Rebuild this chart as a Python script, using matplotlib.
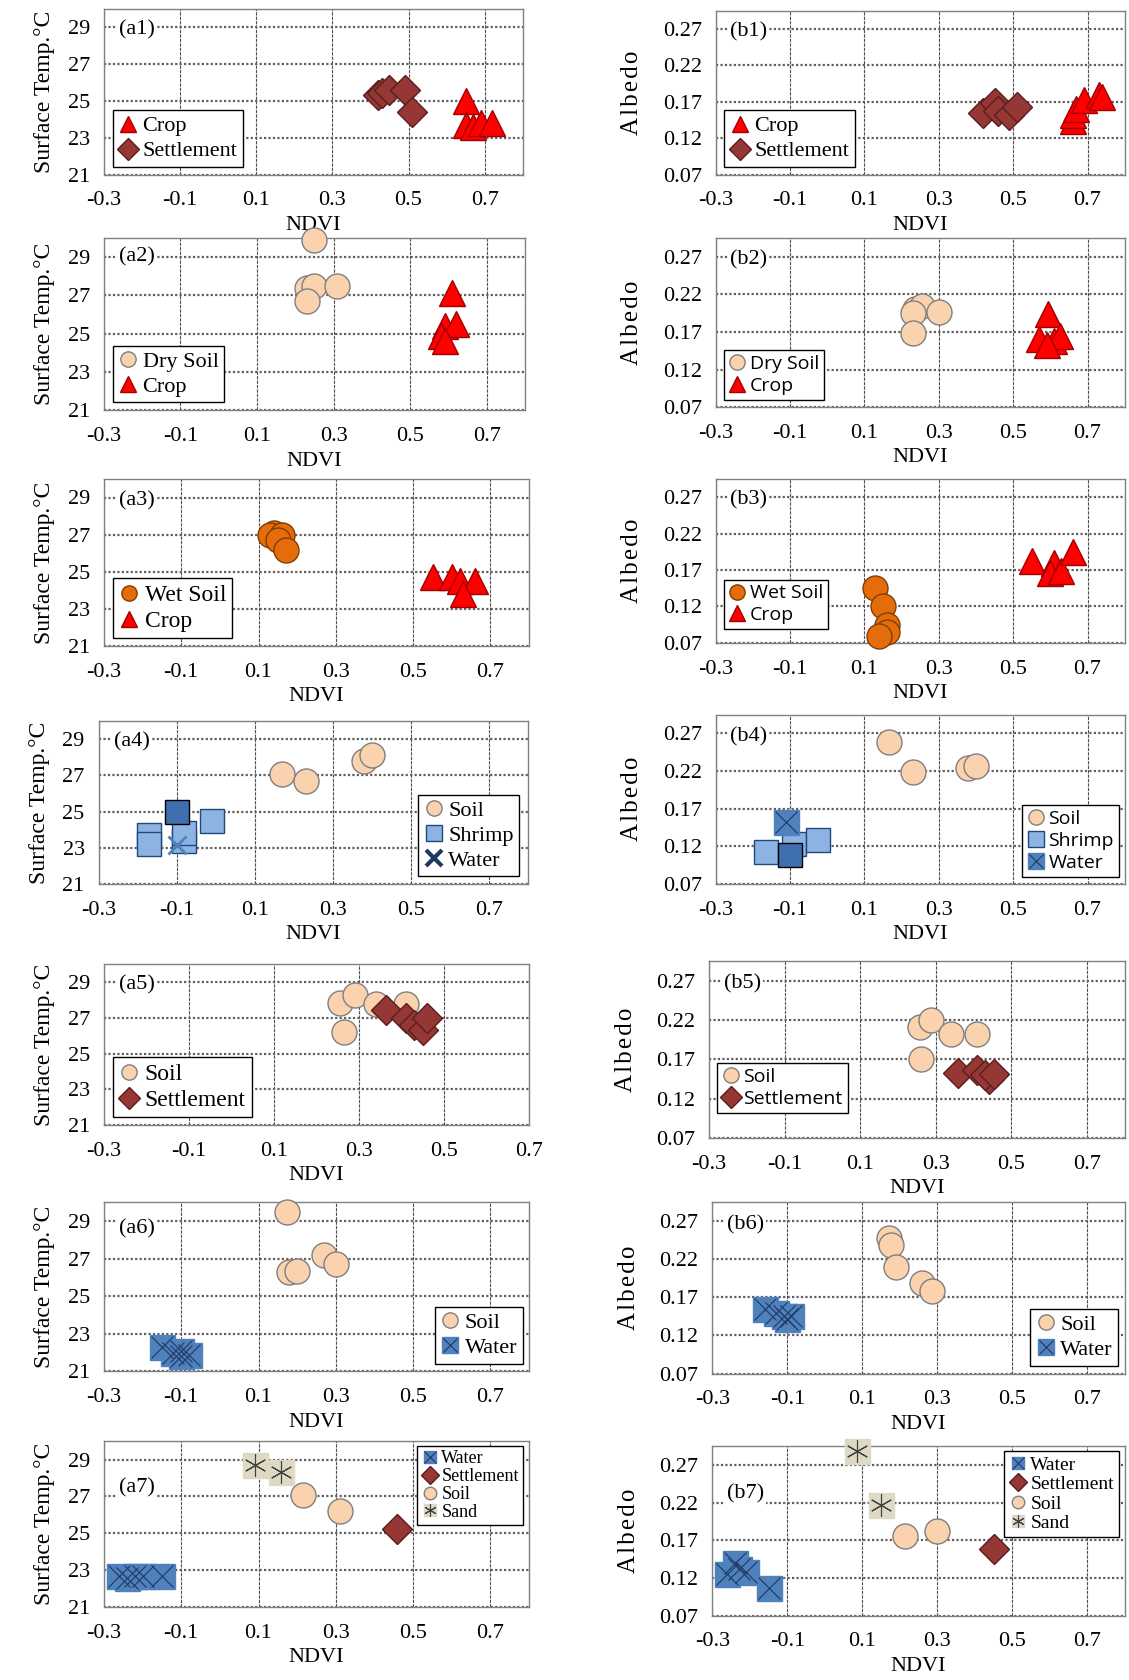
import matplotlib
matplotlib.use("Agg")
import matplotlib.pyplot as plt
from matplotlib.lines import Line2D
from matplotlib.legend_handler import HandlerTuple

plt.rcParams['font.family'] = ['Liberation Serif', 'DejaVu Serif']

# ---- data (NDVI, value) ----
a1_crop = [(0.65, 25.0), (0.65, 23.7), (0.67, 23.6), (0.69, 23.8), (0.72, 23.8)]
a1_settle = [(0.42, 25.3), (0.43, 25.4), (0.45, 25.6), (0.49, 25.6), (0.51, 24.4)]
b1_crop = [(0.66, 0.143), (0.66, 0.152), (0.67, 0.16), (0.69, 0.172), (0.73, 0.18), (0.74, 0.176)]
b1_settle = [(0.42, 0.155), (0.45, 0.168), (0.46, 0.158), (0.49, 0.152), (0.51, 0.163)]

a2_dry = [(0.25, 29.9), (0.23, 27.4), (0.25, 27.5), (0.31, 27.5), (0.23, 26.7)]
a2_crop = [(0.61, 27.1), (0.59, 25.4), (0.62, 25.5), (0.58, 24.9), (0.59, 24.6)]
b2_dry = [(0.235, 0.201), (0.254, 0.205), (0.23, 0.195), (0.30, 0.197), (0.23, 0.168)]
b2_crop = [(0.594, 0.194), (0.57, 0.16), (0.61, 0.158), (0.625, 0.165), (0.59, 0.153)]

a3_wet = [(0.14, 27.1), (0.13, 27.0), (0.16, 27.0), (0.15, 26.7), (0.17, 26.2)]
a3_crop = [(0.55, 24.7), (0.60, 24.7), (0.62, 24.5), (0.66, 24.5), (0.63, 23.8)]
b3_wet = [(0.13, 0.145), (0.15, 0.12), (0.16, 0.095), (0.16, 0.085), (0.14, 0.08)]
b3_crop = [(0.55, 0.183), (0.61, 0.18), (0.60, 0.166), (0.63, 0.168), (0.66, 0.195)]

a4_soil = [(0.17, 27.1), (0.23, 26.7), (0.38, 27.8), (0.40, 28.1)]
a4_shrimp = [(-0.17, 23.7), (-0.17, 23.2), (-0.08, 23.4), (-0.08, 23.8), (-0.01, 24.5)]
a4_shrimp_dark = [(-0.10, 25.0)]
a4_water = [(-0.10, 23.15)]
b4_soil = [(0.167, 0.259), (0.23, 0.219), (0.38, 0.224), (0.40, 0.227)]
b4_shrimp = [(-0.165, 0.112), (-0.09, 0.123), (-0.025, 0.129)]
b4_shrimp_dark = [(-0.10, 0.109)]
b4_water = [(-0.11, 0.152)]

a5_soil = [(0.255, 27.85), (0.29, 28.3), (0.34, 27.8), (0.41, 27.8), (0.265, 26.2)]
a5_settle = [(0.364, 27.45), (0.41, 27.0), (0.43, 26.6), (0.45, 26.3), (0.46, 27.0)]
b5_soil = [(0.258, 0.211), (0.286, 0.22), (0.34, 0.202), (0.41, 0.202), (0.26, 0.17)]
b5_settle = [(0.36, 0.153), (0.41, 0.157), (0.44, 0.145), (0.43, 0.15), (0.455, 0.151)]

a6_soil = [(0.174, 29.5), (0.18, 26.3), (0.20, 26.35), (0.27, 27.2), (0.30, 26.7)]
a6_water = [(-0.15, 22.3), (-0.12, 22.0), (-0.10, 21.8), (-0.08, 21.9), (-0.10, 22.1)]
b6_soil = [(0.17, 0.248), (0.176, 0.239), (0.19, 0.21), (0.26, 0.189), (0.285, 0.178)]
b6_water = [(-0.16, 0.155), (-0.13, 0.149), (-0.11, 0.146), (-0.10, 0.142), (-0.09, 0.145)]

a7_water = [(-0.26, 22.7), (-0.24, 22.6), (-0.22, 22.7), (-0.20, 22.7), (-0.15, 22.7)]
a7_settle = [(0.457, 25.25)]
a7_soil = [(0.215, 27.1), (0.31, 26.2)]
a7_sand = [(0.09, 28.7), (0.157, 28.3)]
b7_water = [(-0.26, 0.125), (-0.24, 0.14), (-0.23, 0.132), (-0.21, 0.128), (-0.15, 0.107)]
b7_settle = [(0.452, 0.159)]
b7_soil = [(0.214, 0.176), (0.30, 0.182)]
b7_sand = [(0.087, 0.289), (0.15, 0.217)]

x_ticks = [-0.3, -0.1, 0.1, 0.3, 0.5, 0.7]
temp_ticks = [21, 23, 25, 27, 29]
alb_ticks = [0.07, 0.12, 0.17, 0.22, 0.27]

# ---- marker styles per class ----
STYLE = {
    'Crop': dict(marker='^', mfc='#FF0000', mec='#A00000', ms=19),
    'Settlement': dict(marker='D', mfc='#953735', mec='#5A1E1D', ms=15),
    'Dry Soil': dict(marker='o', mfc='#FAD3AE', mec='#7F7F7F', ms=18),
    'Soil': dict(marker='o', mfc='#FAD3AE', mec='#7F7F7F', ms=18),
    'Wet Soil': dict(marker='o', mfc='#E46C0A', mec='#7F3F00', ms=18),
    'Shrimp': dict(marker='s', mfc='#8DB3E2', mec='#1F497D', ms=17),
    'ShrimpDark': dict(marker='s', mfc='#3F6FAE', mec='#000000', ms=17),
    'WaterX': dict(marker='x', mfc='none', mec='#4F81BD', ms=13, mew=2),
    'Water': dict(marker='s', mfc='#4F81BD', mec='#4F81BD', ms=18),
    'Sand': dict(marker='s', mfc='#DDD9C3', mec='#DDD9C3', ms=18),
}


def spaced(s):
    return '\u200a'.join(s)


def draw(ax, pts, key):
    xs = [p[0] for p in pts]
    ys = [p[1] for p in pts]
    st = STYLE[key]
    ax.plot(xs, ys, ls='none', marker=st['marker'], mfc=st['mfc'], mec=st['mec'],
            ms=st['ms'], mew=st.get('mew', 1.0), zorder=3, clip_on=False)
    if key == 'Water':
        ax.plot(xs, ys, ls='none', marker='x', mec='#1F3864', ms=st['ms'] * 0.85, mew=0.8,
                zorder=4, clip_on=False)
    if key == 'Sand':
        ax.plot(xs, ys, ls='none', marker=(6, 2, 0), mec='#404040', ms=st['ms'] * 0.9, mew=0.8,
                zorder=4, clip_on=False)


def handle(key, small=11):
    st = STYLE[key]
    if key == 'Water':
        return (Line2D([], [], ls='none', marker='s', mfc=st['mfc'], mec=st['mec'], ms=small),
                Line2D([], [], ls='none', marker='x', mec='#1F3864', ms=small * 0.9, mew=0.8))
    if key == 'Sand':
        return (Line2D([], [], ls='none', marker='s', mfc=st['mfc'], mec=st['mec'], ms=small),
                Line2D([], [], ls='none', marker=(6, 2, 0), mec='#404040', ms=small, mew=0.8))
    if key == 'WaterX':
        return Line2D([], [], ls='none', marker='x', mec='#1F3864', ms=small, mew=3)
    return Line2D([], [], ls='none', marker=st['marker'], mfc=st['mfc'], mec=st['mec'], ms=small)


def setup(ax, kind, tag, tag_y=0.87, xmax=0.8):
    ax.set_xlim(-0.3, xmax)
    ax.set_xticks(x_ticks)
    ax.set_xticklabels([f'{t:.1f}' for t in x_ticks])
    if kind == 'a':
        ax.set_ylim(21, 30)
        ax.set_yticks(temp_ticks)
        ax.set_ylabel('Surface Temp.°C', fontsize=17, labelpad=9)
    else:
        ax.set_ylim(0.07, 0.295)
        ax.set_yticks(alb_ticks)
        ax.set_yticklabels([f'{t:.2f}' for t in alb_ticks])
        ax.set_ylabel(spaced('Albedo'), fontsize=18, labelpad=14)
    ax.set_xlabel('NDVI', fontsize=16, labelpad=4)
    ax.tick_params(axis='x', length=0, labelsize=16, pad=12)
    ax.tick_params(axis='y', length=0, labelsize=16, pad=10)
    ax.xaxis.grid(True, color='#505050', lw=0.8, ls=(0, (3, 1)))
    ax.yaxis.grid(True, color='#606060', lw=1.6, ls=(0, (1, 1)))
    ax.set_axisbelow(True)
    for s in ax.spines.values():
        s.set_color('#808080')
        s.set_linewidth(1.0)
    ax.text(0.035, tag_y, tag, transform=ax.transAxes, fontsize=16, va='center', ha='left',
            bbox=dict(facecolor='white', edgecolor='none', pad=1.5), zorder=5)


def legend(ax, keys, labels, loc, anchor, fontsize=16, family=None, spacing=0.2, ms=11):
    hs = []
    for k in keys:
        hs.append(handle(k, ms))
    prop = {'size': fontsize}
    if family:
        prop['family'] = family
    leg = ax.legend(hs, labels, loc=loc, bbox_to_anchor=anchor, prop=prop,
                    handlelength=0.9, handletextpad=0.2, borderpad=0.25, labelspacing=spacing,
                    borderaxespad=0.2, fancybox=False, framealpha=1, edgecolor='black',
                    handler_map={tuple: HandlerTuple(ndivide=None, pad=-0.9)})
    leg.get_frame().set_linewidth(1.0)
    leg.set_zorder(6)


W, H = 1054.0, 1568.0


def rect(L, R, T, B):
    return [L / W, 1 - B / H, (R - L) / W, (B - T) / H]


fig = plt.figure(figsize=(11.29, 16.80), dpi=100)

# row 1
ax = fig.add_axes(rect(97, 488, 8, 163))
setup(ax, 'a', '(a1)')
draw(ax, a1_settle, 'Settlement'); draw(ax, a1_crop, 'Crop')
legend(ax, ['Crop', 'Settlement'], ['Crop', 'Settlement'], 'lower left', (0.01, 0.02))
ax = fig.add_axes(rect(668, 1050, 10, 163))
setup(ax, 'b', '(b1)')
draw(ax, b1_settle, 'Settlement'); draw(ax, b1_crop, 'Crop')
legend(ax, ['Crop', 'Settlement'], ['Crop', 'Settlement'], 'lower left', (0.01, 0.02))

# row 2
ax = fig.add_axes(rect(97, 490, 222, 383))
setup(ax, 'a', '(a2)', tag_y=0.89)
draw(ax, a2_dry, 'Dry Soil'); draw(ax, a2_crop, 'Crop')
legend(ax, ['Dry Soil', 'Crop'], ['Dry Soil', 'Crop'], 'lower left', (0.01, 0.02))
ax = fig.add_axes(rect(668, 1050, 222, 380))
setup(ax, 'b', '(b2)')
draw(ax, b2_dry, 'Dry Soil'); draw(ax, b2_crop, 'Crop')
legend(ax, ['Dry Soil', 'Crop'], ['Dry Soil', 'Crop'], 'lower left', (0.01, 0.02),
       family='Open Sans', fontsize=14)

# row 3
ax = fig.add_axes(rect(97, 494, 447, 603))
setup(ax, 'a', '(a3)')
draw(ax, a3_wet, 'Wet Soil'); draw(ax, a3_crop, 'Crop')
legend(ax, ['Wet Soil', 'Crop'], ['Wet Soil', 'Crop'], 'lower left', (0.01, 0.02), fontsize=17)
ax = fig.add_axes(rect(668, 1050, 447, 600))
setup(ax, 'b', '(b3)')
draw(ax, b3_wet, 'Wet Soil'); draw(ax, b3_crop, 'Crop')
legend(ax, ['Wet Soil', 'Crop'], ['Wet Soil', 'Crop'], 'lower left', (0.01, 0.06),
       family='Open Sans', fontsize=14)

# row 4
ax = fig.add_axes(rect(92, 493, 673, 825))
setup(ax, 'a', '(a4)')
draw(ax, a4_soil, 'Soil'); draw(ax, a4_shrimp, 'Shrimp')
draw(ax, a4_shrimp_dark, 'ShrimpDark'); draw(ax, a4_water, 'WaterX')
legend(ax, ['Soil', 'Shrimp', 'WaterX'], ['Soil', 'Shrimp', 'Water'], 'lower right', (0.99, 0.02))
ax = fig.add_axes(rect(668, 1050, 667, 825))
setup(ax, 'b', '(b4)')
draw(ax, b4_soil, 'Soil'); draw(ax, b4_shrimp, 'Shrimp')
draw(ax, b4_shrimp_dark, 'ShrimpDark'); draw(ax, b4_water, 'Water')
legend(ax, ['Soil', 'Shrimp', 'Water'], ['Soil', 'Shrimp', 'Water'], 'lower right', (0.995, 0.02),
       family='Open Sans', fontsize=14)

# row 5
ax = fig.add_axes(rect(97, 494, 900, 1050))
setup(ax, 'a', '(a5)', xmax=0.7)
draw(ax, a5_soil, 'Soil'); draw(ax, a5_settle, 'Settlement')
legend(ax, ['Soil', 'Settlement'], ['Soil', 'Settlement'], 'lower left', (0.01, 0.02), fontsize=17)
ax = fig.add_axes(rect(662, 1050, 897, 1062))
setup(ax, 'b', '(b5)')
draw(ax, b5_soil, 'Soil'); draw(ax, b5_settle, 'Settlement')
legend(ax, ['Soil', 'Settlement'], ['Soil', 'Settlement'], 'lower left', (0.01, 0.12),
       family='Open Sans', fontsize=14)

# row 6
ax = fig.add_axes(rect(97, 494, 1122, 1280))
setup(ax, 'a', '(a6)', tag_y=0.84)
draw(ax, a6_soil, 'Soil'); draw(ax, a6_water, 'Water')
legend(ax, ['Soil', 'Water'], ['Soil', 'Water'], 'lower right', (0.995, 0.02))
ax = fig.add_axes(rect(665, 1050, 1122, 1282))
setup(ax, 'b', '(b6)')
draw(ax, b6_soil, 'Soil'); draw(ax, b6_water, 'Water')
legend(ax, ['Soil', 'Water'], ['Soil', 'Water'], 'lower right', (0.995, 0.02))

# row 7
ax = fig.add_axes(rect(97, 494, 1345, 1500))
setup(ax, 'a', '(a7)', tag_y=0.72)
draw(ax, a7_water, 'Water'); draw(ax, a7_settle, 'Settlement')
draw(ax, a7_soil, 'Soil'); draw(ax, a7_sand, 'Sand')
legend(ax, ['Water', 'Settlement', 'Soil', 'Sand'], ['Water', 'Settlement', 'Soil', 'Sand'],
       'upper right', (0.995, 0.995), fontsize=13, spacing=0.05, ms=9)
ax = fig.add_axes(rect(665, 1050, 1350, 1508))
setup(ax, 'b', '(b7)', tag_y=0.72)
draw(ax, b7_water, 'Water'); draw(ax, b7_settle, 'Settlement')
draw(ax, b7_soil, 'Soil'); draw(ax, b7_sand, 'Sand')
legend(ax, ['Water', 'Settlement', 'Soil', 'Sand'], ['Water', 'Settlement', 'Soil', 'Sand'],
       'upper right', (0.995, 0.995), fontsize=14, spacing=0.1, ms=9)

fig.savefig('out.png', dpi=100)
